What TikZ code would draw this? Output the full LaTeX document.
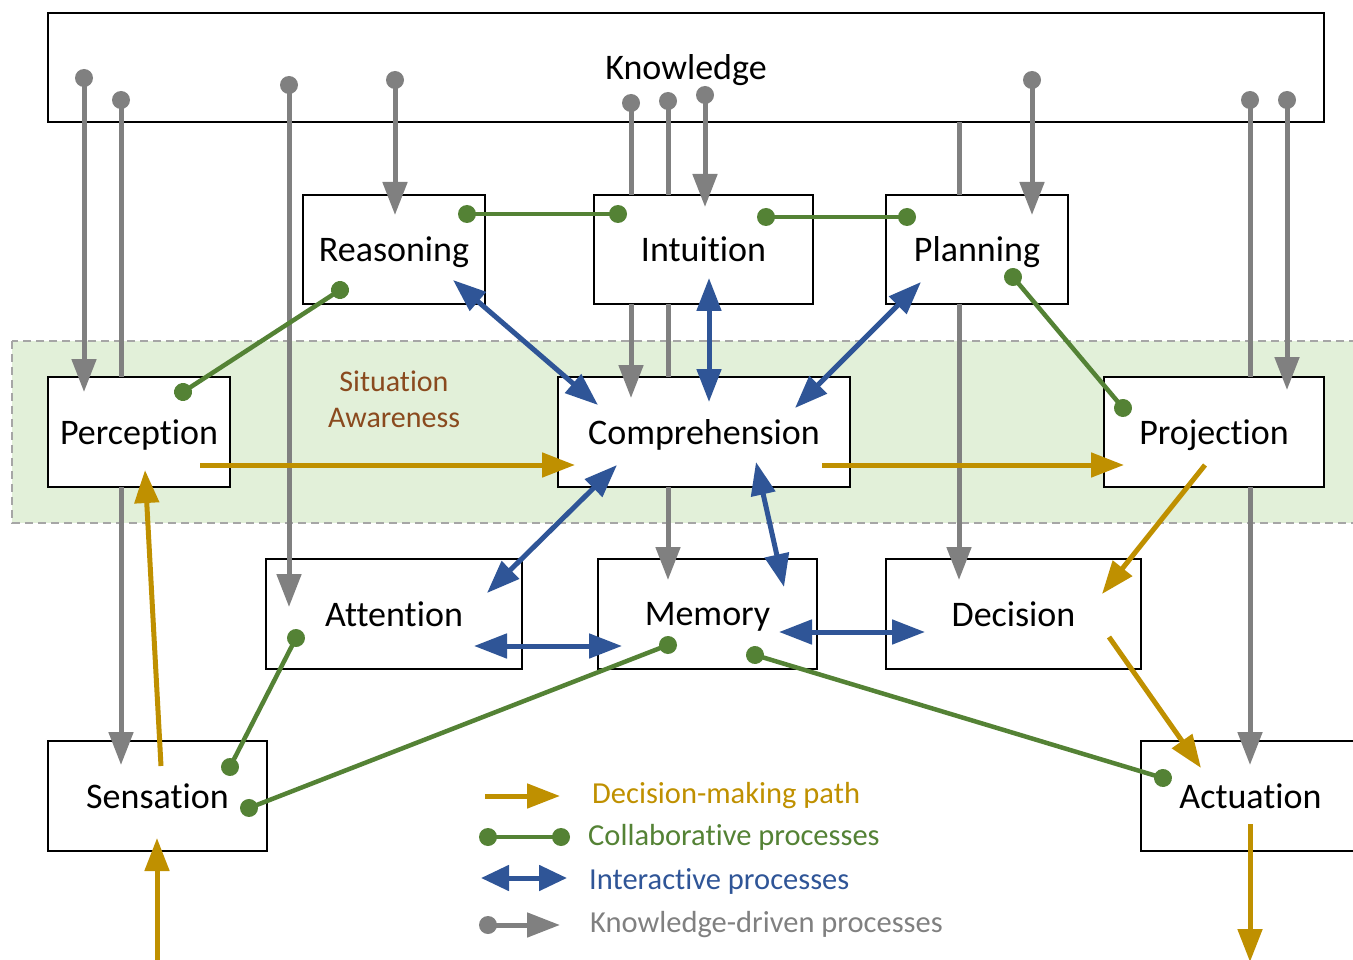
\documentclass[tikz,border=0pt]{standalone}
\usepackage{fontspec}
\setmainfont{Carlito}[Ligatures=CommonOff]
\usetikzlibrary{arrows.meta,calc,decorations.markings}
\pgfdeclarelayer{background}
\pgfdeclarelayer{front}
\pgfsetlayers{background,main,front}

\definecolor{kgray}{HTML}{808080}
\definecolor{cgreen}{HTML}{548235}
\definecolor{iblue}{HTML}{2F5597}
\definecolor{dgold}{HTML}{BF9000}
\definecolor{sabrown}{HTML}{8A4A1E}
\definecolor{safill}{HTML}{E2F0D9}
\definecolor{sadash}{HTML}{A6A6A6}

\tikzset{
  box/.style={draw=black, line width=2.7pt, fill=white, minimum height=109pt,
    inner sep=0pt, outer sep=0pt, text depth=0pt, font=\fontsize{36}{42}\selectfont},
  startdot/.style={postaction={decorate, decoration={markings,
    mark=at position 0 with {\fill[#1] (0,0) circle (9pt);}}}},
  bothdots/.style={postaction={decorate, decoration={markings,
    mark=at position 0 with {\fill[#1] (0,0) circle (9pt);},
    mark=at position 1 with {\fill[#1] (0,0) circle (9pt);}}}},
  kdline/.style={draw=kgray, line width=5pt, ->},
  kd/.style={kdline, startdot=kgray},
  cp/.style={draw=cgreen, line width=4.5pt, bothdots=cgreen},
  ip/.style={draw=iblue, line width=5pt, <->},
  dm/.style={draw=dgold, line width=5pt, ->},
  legtext/.style={anchor=base west, inner sep=0pt, font=\fontsize{30.5}{36}\selectfont},
}

\begin{document}
\begin{tikzpicture}[x=1pt, y=-1pt, >={Triangle[length=33pt,width=24pt]}]
\useasboundingbox (0,0) rectangle (1353,960);
\clip (0,0) rectangle (1353,960);

% situation awareness band and the knowledge store behind everything
\begin{pgfonlayer}{background}
  \fill[safill] (12,341) rectangle (1380,523);
  \draw[sadash, line width=1.2pt, dash pattern=on 8pt off 5pt] (12,341) rectangle (1380,523);
  \node[box, minimum width=1276pt] (Kn) at (686,67.5) {Knowledge};
\end{pgfonlayer}

\node[text=sabrown, align=center, font=\fontsize{30}{36}\selectfont] (SA) at (394,399) {Situation\\Awareness};

% process boxes
\node[box, minimum width=182pt] (Rea) at (394,249.5) {Reasoning};
\node[box, minimum width=219pt] (Int) at (703.5,249.5) {Intuition};
\node[box, minimum width=182pt] (Pla) at (977,249.5) {Planning};
\node[box, minimum width=182pt, minimum height=110pt] (Per) at (139,432) {Perception};
\node[box, minimum width=292pt, minimum height=110pt] (Com) at (704,432) {Comprehension};
\node[box, minimum width=220pt, minimum height=110pt] (Pro) at (1214,432) {Projection};
\node[box, minimum width=256pt, minimum height=110pt] (Att) at (394,614) {Attention};
\node[box, minimum width=219pt, minimum height=110pt] (Mem) at (707.5,614) {Memory};
\node[box, minimum width=255pt, minimum height=110pt] (Dec) at (1013.5,614) {Decision};
\node[box, minimum width=219pt, minimum height=110pt] (Sen) at (157.5,796) {Sensation};
\node[box, minimum width=219pt, minimum height=110pt] (Act) at (1250.5,796) {Actuation};

\begin{pgfonlayer}{front}
% knowledge-driven processes
\draw[kd] ($(Kn.north west)+(36,65)$) -- ($(Per.north west)+(36,15)$);
\draw[kd] ($(Kn.north west)+(73,87)$) -- ($(Per.north west)+(73,0)$)
          ($(Per.south west)+(73,0)$) -- ($(Sen.north west)+(73,24)$);
\draw[kd] ($(Kn.north west)+(241,72)$) -- ($(Att.north west)+(23,48)$);
\draw[kd] ($(Kn.north west)+(347,67)$) -- ($(Rea.north west)+(92,20)$);
\draw[kd] ($(Kn.north west)+(583,90)$) -- ($(Int.north west)+(37,0)$)
          ($(Int.south west)+(37,0)$) -- ($(Com.north west)+(73,21)$);
\draw[kd] ($(Kn.north west)+(620,88)$) -- ($(Int.north west)+(74,0)$)
          ($(Int.south west)+(74,0)$) -- ($(Com.north west)+(110,0)$)
          ($(Com.south west)+(110,0)$) -- ($(Mem.north west)+(70,21)$);
\draw[kd] ($(Kn.north west)+(657,82)$) -- ($(Int.north west)+(111,12)$);
\draw[kdline] ($(Kn.south west)+(911,0)$) -- ($(Pla.north west)+(73,0)$)
          ($(Pla.south west)+(73,0)$) -- ($(Dec.north west)+(73,21)$);
\draw[kd] ($(Kn.north west)+(984,67)$) -- ($(Pla.north west)+(146,20)$);
\draw[kd] ($(Kn.north west)+(1202,87)$) -- ($(Pro.north west)+(146,0)$)
          ($(Pro.south west)+(146,0)$) -- ($(Act.north west)+(109,24)$);
\draw[kd] ($(Kn.north west)+(1239,87)$) -- ($(Pro.north west)+(183,13)$);

% collaborative processes
\draw[cp] ($(Rea.north west)+(164,19)$) -- ($(Int.north west)+(24,19)$);
\draw[cp] ($(Int.north west)+(172,22)$) -- ($(Pla.north west)+(21,22)$);
\draw[cp] ($(Rea.north west)+(37,95)$) -- ($(Per.north west)+(135,15)$);
\draw[cp] ($(Pla.north west)+(127,82)$) -- ($(Pro.north west)+(19,31)$);
\draw[cp] ($(Att.north west)+(30,79)$) -- ($(Sen.north west)+(182,26)$);
\draw[cp] ($(Mem.north west)+(70,86)$) -- ($(Sen.north west)+(201,67)$);
\draw[cp] ($(Mem.north west)+(157,96)$) -- ($(Act.north west)+(22,37)$);

% interactive processes
\draw[ip] ($(Rea.north west)+(150,85)$) -- ($(Com.north west)+(40,28)$);
\draw[ip] ($(Int.north west)+(115,83)$) -- ($(Com.north west)+(151,25)$);
\draw[ip] ($(Pla.north west)+(35,87)$) -- ($(Com.north west)+(237,31)$);
\draw[ip] ($(Com.north west)+(59,88)$) -- ($(Att.north west)+(221,34)$);
\draw[ip] ($(Com.north west)+(198,85)$) -- ($(Mem.north west)+(186,28)$);
\draw[ip] ($(Att.north west)+(208,87)$) -- ($(Mem.north west)+(24,87)$);
\draw[ip] ($(Mem.north west)+(181,73)$) -- ($(Dec.north west)+(39,73)$);

% decision-making path
\coordinate (stimulus) at (157,962);
\coordinate (response) at (1250,962);
\draw[dm] (stimulus) -- ($(Sen.north west)+(109,97)$);
\draw[dm] ($(Sen.north west)+(113,25)$) -- ($(Per.north west)+(97,93)$);
\draw[dm] ($(Per.north west)+(152,88)$) -- ($(Com.north west)+(17,88)$);
\draw[dm] ($(Com.north west)+(264,88)$) -- ($(Pro.north west)+(20,88)$);
\draw[dm] ($(Pro.north west)+(101,88)$) -- ($(Dec.north west)+(216,35)$);
\draw[dm] ($(Dec.north west)+(223,78)$) -- ($(Act.north west)+(60,27)$);
\draw[dm] ($(Act.north west)+(109,83)$) -- (response);

% legend
\coordinate (l1a) at (485,796); \coordinate (l1b) at (560,796);
\coordinate (l2a) at (488,837); \coordinate (l2b) at (561,837);
\coordinate (l3a) at (481,878); \coordinate (l3b) at (567,878);
\coordinate (l4a) at (488,925); \coordinate (l4b) at (560,925);
\draw[dm] (l1a) -- (l1b);
\draw[cp] (l2a) -- (l2b);
\draw[ip, >={Triangle[length=28pt,width=25pt]}] (l3a) -- (l3b);
\draw[kd] (l4a) -- (l4b);
\node[legtext, text=dgold] (t1) at (592,803) {Decision-making path};
\node[legtext, text=cgreen] (t2) at (588,845) {Collaborative processes};
\node[legtext, text=iblue] (t3) at (589,889) {Interactive processes};
\node[legtext, text=kgray] (t4) at (590,932) {Knowledge-driven processes};
\end{pgfonlayer}
\end{tikzpicture}
\end{document}
